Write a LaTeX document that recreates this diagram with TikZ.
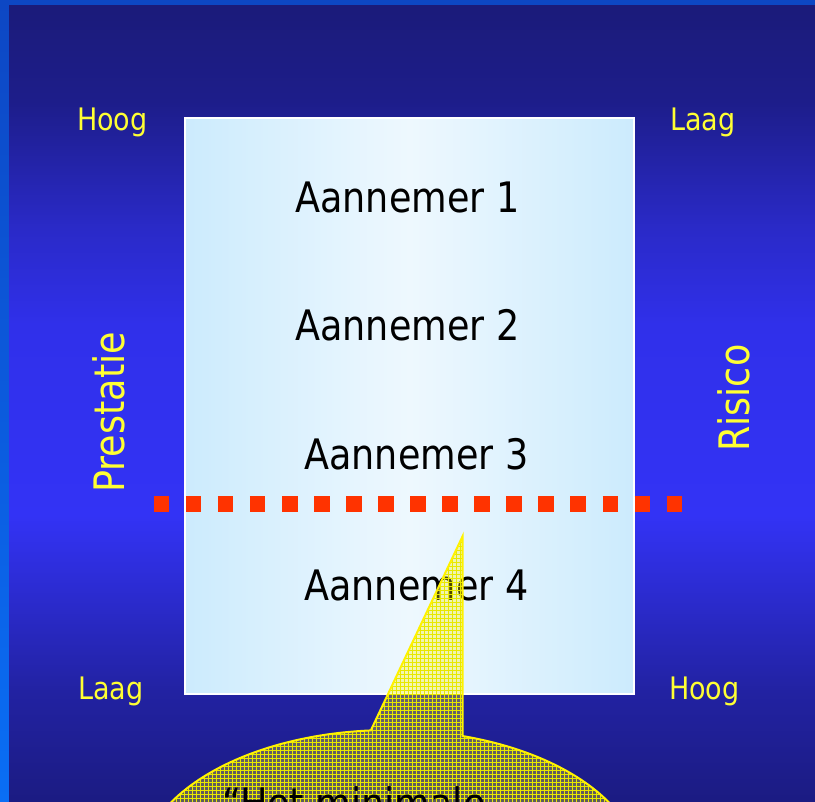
\documentclass[tikz,border=0pt]{standalone}
\usepackage{fontspec}
\setmainfont{DejaVu Sans}[FakeStretch=0.87]
\usetikzlibrary{calc,patterns}

% palette
\definecolor{framet}{HTML}{0D47C4}
\definecolor{frameb}{HTML}{0A6EF5}
\definecolor{bgb0}{HTML}{1B1B82}
\definecolor{bgb1}{HTML}{2222A2}
\definecolor{bgmid}{HTML}{3333F5}
\definecolor{bgmidb}{HTML}{3030EA}
\definecolor{bgt2}{HTML}{2A2AC8}
\definecolor{bgt1}{HTML}{1D1D8A}
\definecolor{bgt0}{HTML}{1B1B7A}
\definecolor{paneledge}{HTML}{CCEBFD}
\definecolor{panelmid}{HTML}{EEF8FE}
\definecolor{labelyellow}{HTML}{FFFF33}
\definecolor{cutred}{HTML}{FF3300}
\definecolor{balloonline}{HTML}{E8E800}

% dark-bright-dark backdrop
\pgfdeclareverticalshading{backdrop}{100bp}{%
  color(0bp)=(bgb0); color(25bp)=(bgb0); color(32bp)=(bgb1);
  color(43bp)=(bgmid); color(55bp)=(bgmidb); color(61bp)=(bgt2);
  color(69bp)=(bgt1); color(75bp)=(bgt0); color(100bp)=(bgt0)}

% coarse square mesh for the balloon fill
\pgfdeclarepatternformonly{balloongrid}{\pgfqpoint{-1pt}{-1pt}}{\pgfqpoint{5pt}{5pt}}{\pgfqpoint{4pt}{4pt}}{%
  \pgfsetlinewidth{0.6pt}%
  \pgfpathmoveto{\pgfqpoint{0pt}{0pt}}\pgfpathlineto{\pgfqpoint{0pt}{4.1pt}}%
  \pgfpathmoveto{\pgfqpoint{0pt}{0pt}}\pgfpathlineto{\pgfqpoint{4.1pt}{0pt}}%
  \pgfusepath{stroke}}

\tikzset{
  cornerlabel/.style={text=labelyellow, font=\fontsize{31}{36}\selectfont,
    inner sep=0pt, anchor=base west},
  axistitle/.style={text=labelyellow, font=\fontsize{42}{50}\selectfont,
    inner sep=0pt, rotate=90, anchor=base west},
  firm/.style={text=black, font=\fontsize{42}{50}\selectfont,
    inner sep=0pt, anchor=base},
  panel/.style={draw=white, line width=1.5pt, left color=paneledge,
    right color=paneledge, middle color=panelmid, inner sep=0pt},
  cutline/.style={draw=cutred, line width=15.5pt,
    dash pattern=on 15.5pt off 16.55pt},
  callout/.style={draw=yellow, line width=2pt,
    preaction={fill=yellow, fill opacity=0.3},
    pattern=balloongrid, pattern color=balloonline},
}

\begin{document}
\begin{tikzpicture}[x=1pt, y=-1pt]
  \useasboundingbox (0,0) rectangle (815,802);
  \clip (0,0) rectangle (815,802);

  % frame and backdrop
  \fill[top color=framet, bottom color=frameb] (0,0) rectangle (9,802);
  \fill[framet] (0,0) rectangle (815,6);
  \fill[shading=backdrop] (9,6) rectangle (815,802);

  % central panel
  \node[panel, minimum width=449pt, minimum height=576pt] (panel) at (409.5,406) {};

  % axis labels
  \node[cornerlabel] (hoogL) at (77,131) {Hoog};
  \node[cornerlabel] (laagR) at (670,131) {Laag};
  \node[cornerlabel] (laagL) at (78,699) {Laag};
  \node[cornerlabel] (hoogR) at (669,699) {Hoog};
  \node[axistitle] (prestatie) at (124,493) {Prestatie};
  \node[axistitle] (risico) at (749,452) {Risico};

  % contractors
  \node[firm] (a1) at (407.5,213) {Aannemer 1};
  \node[firm] (a2) at (407.5,341) {Aannemer 2};
  \node[firm] (a3) at (416.5,470) {Aannemer 3};
  \node[firm] (a4) at (416.5,600) {Aannemer 4};

  % cut-off line
  \coordinate (cutL) at (153.8,504);
  \coordinate (cutR) at (682.5,504);
  \draw[cutline] (cutL) -- (cutR);

  % speech balloon
  \coordinate (ec) at (390,870);
  \coordinate (tip) at (462.7,536);
  \path[callout] (tip) -- ($(ec)+(-94.4:250 and 140)$)
    arc[start angle=-94.4, end angle=-433.1, x radius=250, y radius=140]
    -- cycle;
  \node[firm, anchor=base west] (quote) at (222,818) {“Het minimale};
\end{tikzpicture}
\end{document}
